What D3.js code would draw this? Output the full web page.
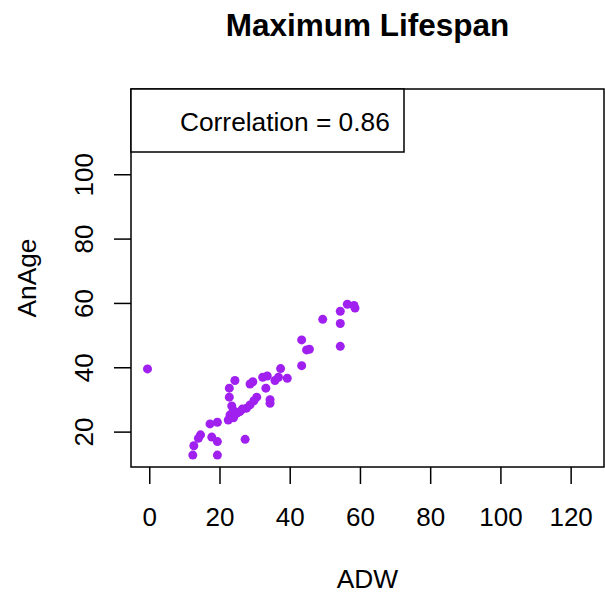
<!DOCTYPE html>
<html>
<head>
<meta charset="utf-8">
<script src="https://cdn.jsdelivr.net/npm/d3@7"></script>
<style>
  body { margin: 0; background: #fff; }
  text { font-family: "Liberation Sans", Arial, sans-serif; fill: #000; }
</style>
</head>
<body>
<svg width="605" height="596"></svg>
<script>
const adw = [
  -0.5, 56.4, 58.3, 58.6, 54.4, 49.4, 54.4, 54.4, 43.4, 44.8, 45.6, 43.4,
  37.4, 39.3, 32.3, 33.6, 35.8, 36.8, 33.2, 34.4, 34.4, 24.4, 28.7, 29.5,
  22.8, 22.8, 23.5, 30.6, 29.8, 28.7, 27.7, 25.8, 24.9, 23.0, 22.5, 23.9,
  17.3, 19.4, 14.6, 14.0, 17.8, 19.4, 27.3, 12.7, 12.4, 19.4, 26.5, 24.0
];
const anage = [
  39.5, 59.6, 59.2, 58.4, 57.4, 54.9, 53.6, 46.5, 48.5, 45.4, 45.6, 40.5,
  39.6, 36.6, 36.9, 37.3, 35.9, 36.9, 33.5, 29.9, 28.8, 35.9, 34.8, 35.5,
  33.5, 30.7, 28.0, 30.7, 29.6, 28.3, 27.3, 26.2, 25.7, 25.2, 23.6, 26.7,
  22.4, 22.9, 19.0, 17.9, 18.3, 16.9, 17.6, 15.6, 12.7, 12.7, 27.0, 24.3
];
const xTicks = [0, 20, 40, 60, 80, 100, 120];
const yTicks = [20, 40, 60, 80, 100];
const title = "Maximum Lifespan";
const legendText = "Correlation = 0.86";

const svg = d3.select("svg");
const width = +svg.attr("width");
const height = +svg.attr("height");
const margin = { top: 89, right: 1, bottom: 129, left: 131 };
const innerWidth = width - margin.left - margin.right;
const innerHeight = height - margin.top - margin.bottom;

const xScale = d3.scaleLinear().domain([-5.2, 129.5]).range([0, innerWidth]);
const yScale = d3.scaleLinear().domain([9.0, 126.5]).range([innerHeight, 0]);

const g = svg.append("g")
  .attr("transform", `translate(${margin.left},${margin.top})`);

// points
g.selectAll("circle")
  .data(adw.map((d, i) => [d, anage[i]]))
  .join("circle")
  .attr("cx", (d) => xScale(d[0]))
  .attr("cy", (d) => yScale(d[1]))
  .attr("r", 4.5)
  .attr("fill", "#A020F0");

// axes
const xAxisG = g.append("g")
  .attr("transform", `translate(0,${innerHeight})`)
  .call(d3.axisBottom(xScale).tickValues(xTicks).tickSize(17).tickFormat(d3.format("d")));
xAxisG.select(".domain").remove();
xAxisG.selectAll("line").attr("stroke", "#000").attr("stroke-width", 1.5);
xAxisG.selectAll("text")
  .attr("dy", null)
  .attr("y", 59)
  .attr("font-size", 26)
  .attr("font-family", "Liberation Sans, Arial, sans-serif");

const yAxisG = g.append("g")
  .call(d3.axisLeft(yScale).tickValues(yTicks).tickSize(17).tickFormat(d3.format("d")));
yAxisG.select(".domain").remove();
yAxisG.selectAll("line").attr("stroke", "#000").attr("stroke-width", 1.5);
yAxisG.selectAll("text")
  .attr("dy", null)
  .attr("x", 0)
  .attr("y", -38)
  .attr("transform", "rotate(-90)")
  .attr("text-anchor", "middle")
  .attr("font-size", 26)
  .attr("font-family", "Liberation Sans, Arial, sans-serif");

// plot box
g.append("rect")
  .attr("width", innerWidth)
  .attr("height", innerHeight)
  .attr("fill", "none")
  .attr("stroke", "#000")
  .attr("stroke-width", 1.5);

// legend
g.append("rect")
  .attr("x", 0)
  .attr("y", 0)
  .attr("width", 273)
  .attr("height", 63)
  .attr("fill", "#fff")
  .attr("stroke", "#000")
  .attr("stroke-width", 1.5);
g.append("text")
  .attr("x", 49)
  .attr("y", 42)
  .attr("font-size", 26.3)
  .text(legendText);

// labels
svg.append("text")
  .attr("x", margin.left + innerWidth / 2)
  .attr("y", 36)
  .attr("text-anchor", "middle")
  .attr("font-size", 31.5)
  .attr("font-weight", "bold")
  .text(title);

svg.append("text")
  .attr("x", margin.left + innerWidth / 2)
  .attr("y", 588)
  .attr("text-anchor", "middle")
  .attr("font-size", 26.3)
  .text("ADW");

svg.append("text")
  .attr("transform", `translate(36,${margin.top + innerHeight / 2}) rotate(-90)`)
  .attr("text-anchor", "middle")
  .attr("font-size", 26.3)
  .text("AnAge");
</script>
</body>
</html>
